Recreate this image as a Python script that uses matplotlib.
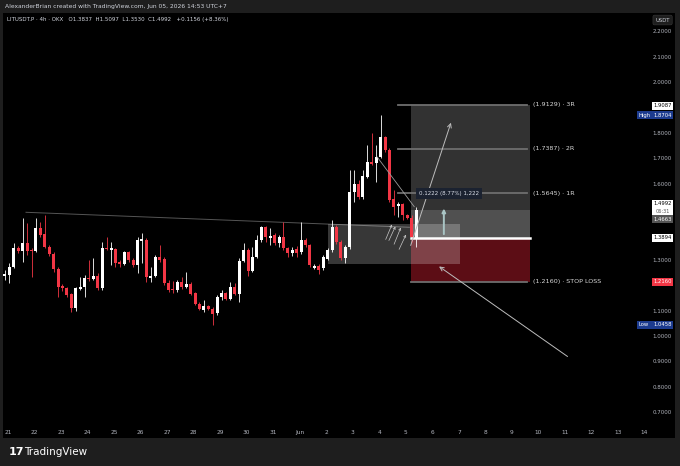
import numpy as np
import matplotlib
matplotlib.use("Agg")
import matplotlib.pyplot as plt
import matplotlib.transforms as mtransforms
from matplotlib.patches import Rectangle

# 4h candles, LITUSDT.P (OKX)
opens = [1.238, 1.242, 1.274, 1.349, 1.337, 1.369, 1.341, 1.337, 1.427, 1.404,
         1.353, 1.325, 1.266, 1.199, 1.191, 1.167, 1.112, 1.187, 1.195, 1.230,
         1.226, 1.238, 1.191, 1.349, 1.341, 1.344, 1.293, 1.285, 1.333, 1.301,
         1.282, 1.376, 1.380, 1.230, 1.238, 1.313, 1.305, 1.211, 1.187, 1.183,
         1.215, 1.195, 1.207, 1.171, 1.128, 1.104, 1.120, 1.108, 1.092, 1.156,
         1.171, 1.148, 1.195, 1.167, 1.297, 1.341, 1.258, 1.313, 1.380, 1.431,
         1.388, 1.400, 1.369, 1.392, 1.349, 1.329, 1.344, 1.333, 1.380, 1.361,
         1.270, 1.278, 1.270, 1.305, 1.341, 1.431, 1.372, 1.309, 1.353, 1.569,
         1.600, 1.549, 1.628, 1.687, 1.683, 1.707, 1.785, 1.734, 1.541, 1.514,
         1.522, 1.479, 1.467, 1.3837]
highs = [1.262, 1.289, 1.369, 1.357, 1.467, 1.447, 1.349, 1.467, 1.451, 1.479,
         1.361, 1.333, 1.274, 1.207, 1.195, 1.171, 1.195, 1.234, 1.242, 1.301,
         1.309, 1.250, 1.372, 1.392, 1.372, 1.349, 1.301, 1.337, 1.337, 1.309,
         1.392, 1.408, 1.388, 1.274, 1.321, 1.361, 1.313, 1.223, 1.219, 1.223,
         1.234, 1.254, 1.215, 1.175, 1.136, 1.144, 1.124, 1.116, 1.163, 1.183,
         1.175, 1.215, 1.211, 1.309, 1.369, 1.349, 1.353, 1.400, 1.435, 1.435,
         1.427, 1.408, 1.400, 1.451, 1.353, 1.353, 1.357, 1.451, 1.388, 1.365,
         1.285, 1.285, 1.321, 1.349, 1.459, 1.439, 1.380, 1.361, 1.655, 1.655,
         1.616, 1.655, 1.754, 1.801, 1.754, 1.8704, 1.789, 1.742, 1.577, 1.530,
         1.526, 1.483, 1.479, 1.5097]
lows = [1.223, 1.211, 1.270, 1.329, 1.293, 1.321, 1.234, 1.333, 1.392, 1.349,
        1.317, 1.254, 1.156, 1.179, 1.156, 1.096, 1.100, 1.183, 1.156, 1.219,
        1.223, 1.183, 1.183, 1.341, 1.282, 1.274, 1.274, 1.282, 1.293, 1.274,
        1.250, 1.289, 1.215, 1.215, 1.234, 1.293, 1.203, 1.175, 1.171, 1.175,
        1.187, 1.191, 1.163, 1.124, 1.104, 1.096, 1.104, 1.0458, 1.085, 1.144,
        1.144, 1.144, 1.163, 1.136, 1.293, 1.238, 1.254, 1.309, 1.372, 1.372,
        1.361, 1.361, 1.353, 1.341, 1.313, 1.317, 1.313, 1.325, 1.353, 1.274,
        1.266, 1.246, 1.262, 1.301, 1.333, 1.365, 1.301, 1.289, 1.344, 1.530,
        1.541, 1.541, 1.624, 1.675, 1.608, 1.703, 1.727, 1.530, 1.479, 1.471,
        1.459, 1.463, 1.372, 1.3530]
closes = [1.246, 1.274, 1.349, 1.337, 1.369, 1.337, 1.335, 1.427, 1.400, 1.353,
          1.325, 1.266, 1.195, 1.191, 1.163, 1.112, 1.191, 1.195, 1.230, 1.226,
          1.238, 1.191, 1.349, 1.344, 1.349, 1.289, 1.285, 1.333, 1.301, 1.282,
          1.380, 1.384, 1.234, 1.238, 1.313, 1.301, 1.211, 1.183, 1.183, 1.215,
          1.195, 1.207, 1.167, 1.128, 1.108, 1.120, 1.108, 1.089, 1.156, 1.171,
          1.148, 1.195, 1.167, 1.297, 1.341, 1.258, 1.313, 1.380, 1.431, 1.392,
          1.396, 1.369, 1.392, 1.349, 1.329, 1.341, 1.329, 1.380, 1.361, 1.282,
          1.278, 1.262, 1.313, 1.341, 1.431, 1.372, 1.309, 1.353, 1.569, 1.600,
          1.549, 1.632, 1.687, 1.679, 1.707, 1.785, 1.734, 1.537, 1.510, 1.522,
          1.479, 1.467, 1.392, 1.4992]

day_labels = ['21', '22', '23', '24', '25', '26', '27', '28', '29', '30', '31',
              'Jun', '2', '3', '4', '5', '6', '7', '8', '9', '10', '11', '12', '13', '14']
price_ticks = [2.2, 2.1, 2.0, 1.8, 1.7, 1.6, 1.3, 1.1, 1.0, 0.9, 0.8, 0.7]

# long position tool
entry = 1.3894
stop = 1.2160
targets = [1.5645, 1.7387, 1.9129]
target_names = ['1R', '2R', '3R']
last_price = 1.4992
zone_low, zone_high = 1.285, 1.443

BG = '#000000'
PANEL = '#1e1e1e'
UP = '#ffffff'
DOWN = '#f23645'
TXT = '#b2b5be'

fig = plt.figure(figsize=(6.8, 4.66), dpi=100, facecolor=PANEL)
ax = fig.add_axes([3 / 680, 28 / 466, 672 / 680, 425 / 466])
ax.set_facecolor(BG)
for s in ax.spines.values():
    s.set_visible(False)
ax.set_xticks([])
ax.set_yticks([])
ax.set_xlim(-0.45, 151.6)
ax.set_ylim(0.6004, 2.2736)

xr = mtransforms.blended_transform_factory(ax.transAxes, ax.transData)
xd = mtransforms.blended_transform_factory(ax.transData, ax.transAxes)

# candles
o = np.array(opens); h = np.array(highs); l = np.array(lows); c = np.array(closes)
x = np.arange(len(o))
cols = np.where(c >= o, UP, DOWN)
ax.vlines(x, l, h, colors=cols, lw=0.6, zorder=3)
body = np.maximum(np.abs(c - o), 0.002)
ax.bar(x, body, bottom=np.minimum(o, c), width=0.68, color=cols, zorder=4, linewidth=0)

# descending trend line
ax.plot([4.75, 91.5], [1.489, 1.430], color='#555555', lw=0.7, zorder=2)

# consolidation zone
ax.add_patch(Rectangle((73.1, zone_low), 102.9 - 73.1, zone_high - zone_low,
                       facecolor='white', alpha=0.22, lw=0, zorder=2))

# risk / reward boxes
rr0, rr1 = 91.9, 118.8
ax.add_patch(Rectangle((rr0, entry), rr1 - rr0, targets[-1] - entry,
                       facecolor='white', alpha=0.2, lw=0, zorder=1))
ax.add_patch(Rectangle((rr0, stop), rr1 - rr0, entry - stop,
                       facecolor='#5c0d15', lw=0, zorder=1))
ax.add_patch(Rectangle((rr0, entry), rr1 - rr0, last_price - entry,
                       facecolor='white', alpha=0.15, lw=0, zorder=1))

for lvl, name in zip(targets, target_names):
    ax.plot([88.9, 118.2], [lvl, lvl], color='#6e6e6e', lw=1.3, zorder=2)
    ax.text(119.5, lvl, '(%.4f) · %s' % (lvl, name), color='#d8d8d8',
            fontsize=4.6, va='center', ha='left', zorder=6)
ax.plot([rr0, 118.2], [stop, stop], color='#6e6e6e', lw=1.3, zorder=2)
ax.text(119.5, stop, '(%.4f) · STOP LOSS' % stop, color='#d8d8d8',
        fontsize=4.6, va='center', ha='left', zorder=6)
ax.plot([rr0, rr1], [entry, entry], color='white', lw=1.8, zorder=5)

# measure label
ax.text(93.6, 1.562, '0.1222 (8.77%) 1,222', color='#d8dce6', fontsize=4.0,
        va='center', ha='left', zorder=7,
        bbox=dict(boxstyle='square,pad=0.5', fc='#1b2230', ec='none'))
ax.annotate('', xy=(99.3, 1.515), xytext=(99.3, 1.392),
            arrowprops=dict(arrowstyle='-|>', color='#a9c4c4', lw=1.4,
                            mutation_scale=5), zorder=6)

# drawn arrows and lines
ax.plot([84.2, 92.6], [1.707, 1.511], color='#9a9a9a', lw=0.6, zorder=5)
ax.annotate('', xy=(101.1, 1.852), xytext=(91.6, 1.348),
            arrowprops=dict(arrowstyle='->', color='#bdbdbd', lw=0.7,
                            mutation_scale=7), zorder=6)
ax.annotate('', xy=(97.7, 1.282), xytext=(127.8, 0.915),
            arrowprops=dict(arrowstyle='->', color='#bdbdbd', lw=0.7,
                            mutation_scale=7), zorder=6)
small_arrows = [((85.9, 1.372), (87.8, 1.451)), ((86.6, 1.368), (88.6, 1.443)),
                ((87.8, 1.353), (89.8, 1.439)), ((88.9, 1.333), (91.0, 1.411))]
for (x0, y0), (x1, y1) in small_arrows:
    ax.annotate('', xy=(x1, y1), xytext=(x0, y0),
                arrowprops=dict(arrowstyle='->', color='#c8c8c8', lw=0.5,
                                mutation_scale=4), zorder=6)

# time axis
for k, lab in enumerate(day_labels):
    ax.text(6 * k + 0.7, 0.014, lab, transform=xd, color=TXT, fontsize=4.2,
            ha='center', va='center')

# price axis
for p in price_ticks:
    ax.text(0.9955, p, '%.4f' % p, transform=xr, color=TXT, fontsize=4.0,
            ha='right', va='center')

BX0, BX1 = 0.966, 0.997
BH = 0.032


def badge(price, label, fc, tc, tag=None):
    ax.add_patch(Rectangle((BX0, price - BH / 2), BX1 - BX0, BH,
                           transform=xr, facecolor=fc, lw=0, zorder=8))
    ax.text((BX0 + BX1) / 2, price, label, transform=xr, color=tc, fontsize=3.8,
            ha='center', va='center', zorder=9)
    if tag:
        ax.add_patch(Rectangle((0.9435, price - BH / 2), BX0 - 0.9435, BH,
                               transform=xr, facecolor=fc, lw=0, zorder=8))
        ax.text(0.9455, price, tag, transform=xr, color=tc, fontsize=3.8,
                ha='left', va='center', zorder=9)


badge(1.9087, '1.9087', 'white', 'black')
badge(1.8704, '1.8704', '#1c3b8f', 'white', tag='High')
ax.add_patch(Rectangle((BX0, 1.479), BX1 - BX0, 0.058, transform=xr,
                       facecolor='white', lw=0, zorder=8))
ax.text((BX0 + BX1) / 2, 1.522, '1.4992', transform=xr, color='black', fontsize=3.8,
        ha='center', va='center', zorder=9)
ax.text((BX0 + BX1) / 2, 1.493, '06:31', transform=xr, color='#555555', fontsize=3.6,
        ha='center', va='center', zorder=9)
badge(1.4625, '1.4663', '#555555', 'white')
badge(entry, '1.3894', 'white', 'black')
badge(stop, '1.2160', DOWN, 'white')
badge(1.0458, '1.0458', '#1c3b8f', 'white', tag='Low')

ax.text((BX0 + BX1) / 2, 0.9835, 'USDT', transform=ax.transAxes, color='#d1d4dc',
        fontsize=3.8, ha='center', va='center', zorder=9,
        bbox=dict(boxstyle='round,pad=0.45,rounding_size=0.3', fc='#1e1e1e',
                  ec='#3a3a3a', lw=0.4))

# header and legend
fig.text(5 / 680, 1 - 6.5 / 466, 'AlexanderBrian created with TradingView.com, Jun 05, 2026 14:53 UTC+7',
         color='#d1d4dc', fontsize=4.3, ha='left', va='center')
fig.text(7 / 680, 1 - 19 / 466,
         'LITUSDT.P · 4h · OKX   O1.3837  H1.5097  L1.3530  C1.4992   +0.1156 (+8.36%)',
         color='#d1d4dc', fontsize=4.0, ha='left', va='center')

# footer logo
fig.text(9 / 680, 1 - 452 / 466, '17', color='white', fontsize=8, fontweight='bold',
         ha='left', va='center')
fig.text(24 / 680, 1 - 452 / 466, 'TradingView', color='white', fontsize=7.5,
         ha='left', va='center')

fig.savefig('out.png', dpi=100, facecolor=PANEL)
